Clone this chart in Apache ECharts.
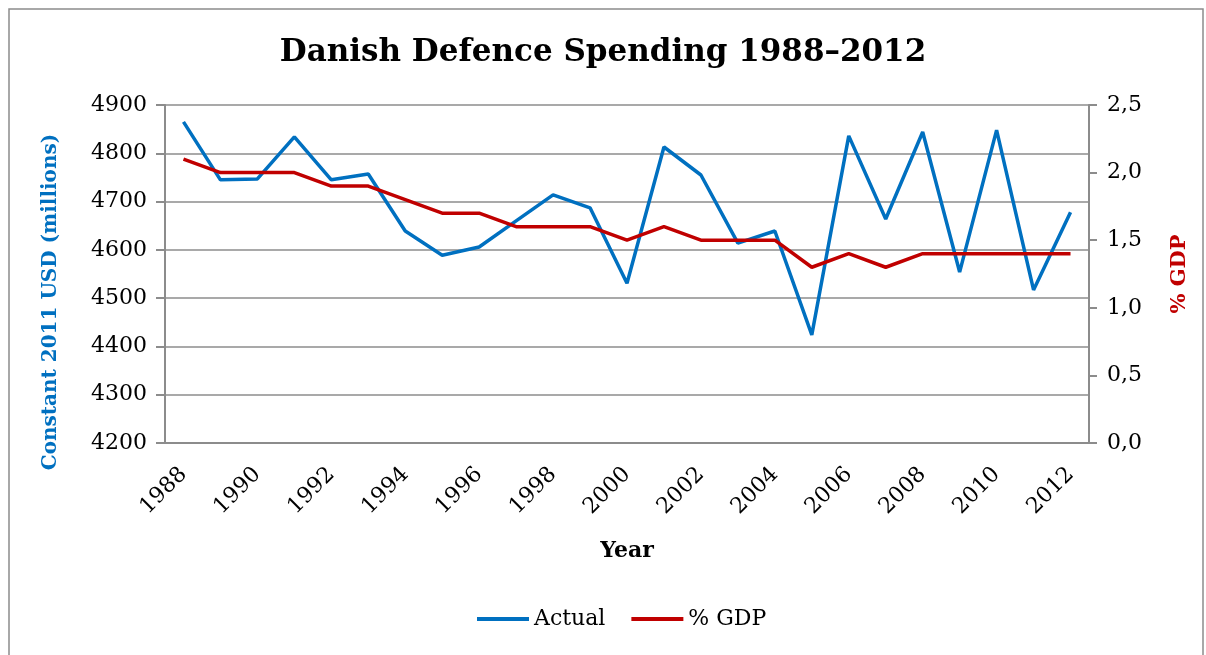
<!DOCTYPE html>
<html><head><meta charset="utf-8">
<script src="https://cdn.jsdelivr.net/npm/echarts@6/dist/echarts.min.js"></script>
<style>html,body{margin:0;padding:0;background:#fff}#c{width:1206px;height:655px}</style>
</head><body><div id="c"></div>
<script>
const years = ['1988','1989','1990','1991','1992','1993','1994','1995','1996','1997','1998','1999','2000','2001','2002','2003','2004','2005','2006','2007','2008','2009','2010','2011','2012'];
const actual = [4865,4745,4747,4834,4745,4757,4639,4589,4606,4660,4714,4687,4531,4813,4755,4614,4639,4424,4836,4664,4844,4554,4848,4517,4678];
const gdp = [2.1,2.0,2.0,2.0,1.9,1.9,1.8,1.7,1.7,1.6,1.6,1.6,1.5,1.6,1.5,1.5,1.5,1.3,1.4,1.3,1.4,1.4,1.4,1.4,1.4];
const F = 'DejaVu Serif';
const chart = echarts.init(document.getElementById('c'));
chart.setOption({
  animation:false,
  textStyle:{fontFamily:F},
  graphic:[{type:'rect',shape:{x:9,y:9,width:1194,height:660},style:{fill:null,stroke:'#8c8c8c',lineWidth:1.5},silent:true}],
  title:{text:'Danish Defence Spending 1988–2012',left:'center',top:32,textStyle:{fontFamily:F,fontSize:31,fontWeight:'bold',color:'#000'}},
  grid:{left:165,right:117,top:105,bottom:212},
  legend:{bottom:20,left:472,itemWidth:52,itemHeight:4,itemGap:26,icon:'rect',textStyle:{fontFamily:F,fontSize:22,color:'#000'},data:['Actual','% GDP']},
  xAxis:{type:'category',data:years,boundaryGap:true,name:'Year',nameLocation:'middle',nameGap:97,
    nameTextStyle:{fontFamily:F,fontSize:22,fontWeight:'bold',color:'#000'},
    axisLine:{lineStyle:{color:'#8c8c8c',width:2}},
    axisTick:{interval:0,length:8,lineStyle:{color:'#8c8c8c',width:2}},
    axisLabel:{interval:1,rotate:45,fontFamily:F,fontSize:22,color:'#000',margin:28}},
  yAxis:[{type:'value',min:4200,max:4900,interval:100,name:'Constant 2011 USD (millions)',nameLocation:'middle',nameGap:104,
    nameTextStyle:{fontFamily:F,fontSize:20,fontWeight:'bold',color:'#0070C0',padding:[0,56,0,0]},
    axisLine:{show:true,lineStyle:{color:'#8c8c8c',width:2}},
    axisTick:{show:true,length:9,lineStyle:{color:'#8c8c8c',width:2}},
    axisLabel:{fontFamily:F,fontSize:22,color:'#000',margin:18,formatter:v=>String(v)},
    splitLine:{lineStyle:{color:'#8c8c8c',width:1.5}}},
   {type:'value',min:0,max:2.5,interval:0.5,name:'% GDP',nameLocation:'middle',nameGap:80,
    nameTextStyle:{fontFamily:F,fontSize:21,fontWeight:'bold',color:'#C00000'},
    axisLine:{show:true,lineStyle:{color:'#8c8c8c',width:2}},
    axisTick:{show:true,length:8,lineStyle:{color:'#8c8c8c',width:2}},
    axisLabel:{fontFamily:F,fontSize:22,color:'#000',margin:18,formatter:v=>v.toFixed(1).replace('.',',')},
    splitLine:{show:false}}],
  series:[
    {name:'Actual',type:'line',data:actual,yAxisIndex:0,symbol:'none',lineStyle:{color:'#0070C0',width:3.5},itemStyle:{color:'#0070C0'}},
    {name:'% GDP',type:'line',data:gdp,yAxisIndex:1,symbol:'none',lineStyle:{color:'#C00000',width:3.5},itemStyle:{color:'#C00000'}}
  ]
});
</script></body></html>
